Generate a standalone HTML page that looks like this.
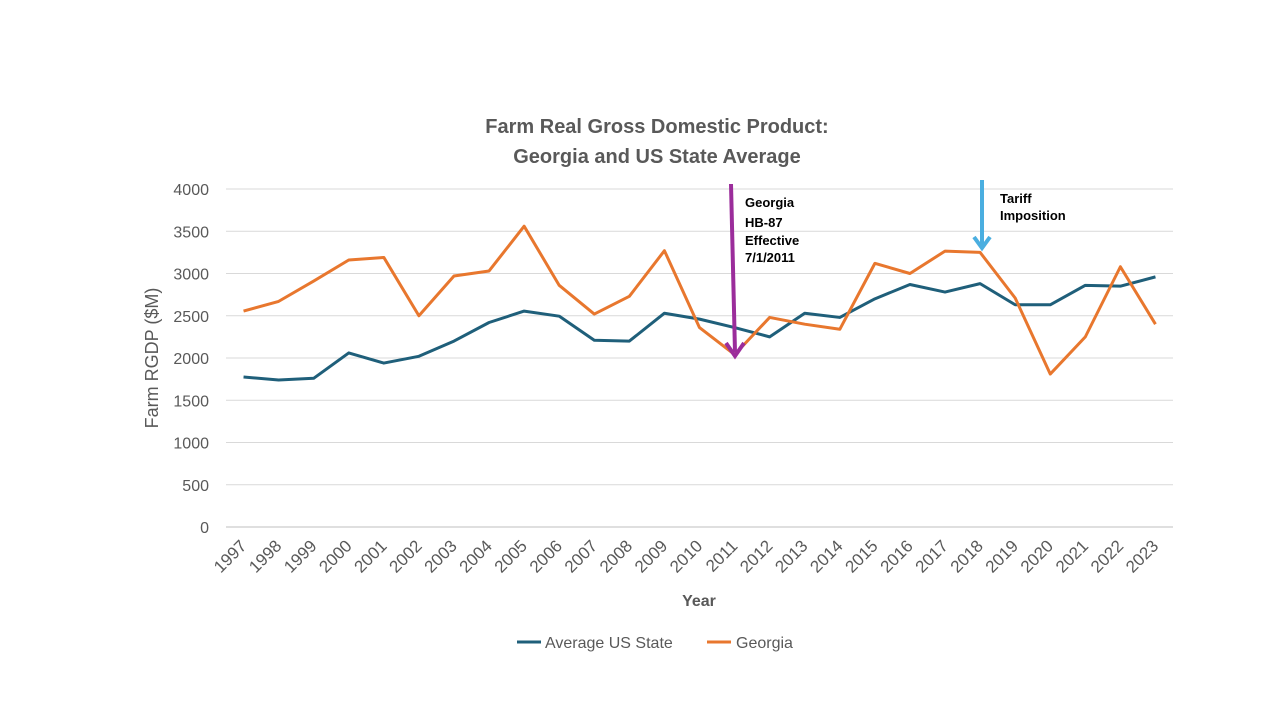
<!DOCTYPE html>
<html><head><meta charset="utf-8"><style>
body{margin:0;background:#fff;width:1280px;height:720px;overflow:hidden;font-family:"Liberation Sans",sans-serif}
</style></head><body>
<svg id="chart" width="1280" height="720" xmlns="http://www.w3.org/2000/svg" font-family="Liberation Sans, sans-serif">
<text x="657" y="133" text-anchor="middle" font-size="20" font-weight="bold" fill="#595959">Farm Real Gross Domestic Product:</text>
<text x="657" y="163" text-anchor="middle" font-size="20" font-weight="bold" fill="#595959">Georgia and US State Average</text>
<g id="grid"></g><g id="yticks"></g><g id="xticks"></g><g id="series"></g>
<text transform="translate(158,358) rotate(-90)" text-anchor="middle" font-size="18" fill="#595959">Farm RGDP ($M)</text>
<text x="699" y="606" text-anchor="middle" font-size="16" font-weight="bold" fill="#595959">Year</text>
<g>
<line x1="517" y1="642" x2="541" y2="642" stroke="#1f5f7a" stroke-width="3"/>
<text x="545" y="648" font-size="16" fill="#595959">Average US State</text>
<line x1="707" y1="642" x2="731" y2="642" stroke="#e8772e" stroke-width="3"/>
<text x="736" y="648" font-size="16" fill="#595959">Georgia</text>
</g>
<g>
<line x1="731" y1="184" x2="735" y2="352" stroke="#9b2d9b" stroke-width="4"/>
<polyline points="726,343 735,356 744,343" fill="none" stroke="#9b2d9b" stroke-width="4"/>
<text font-size="13" font-weight="bold" fill="#000"><tspan x="745" y="207">Georgia</tspan><tspan x="745" y="227">HB-87</tspan><tspan x="745" y="245">Effective</tspan><tspan x="745" y="262">7/1/2011</tspan></text>
</g>
<g>
<line x1="982" y1="180" x2="982" y2="246" stroke="#4aaee0" stroke-width="4"/>
<polyline points="974,237 982,248 990,237" fill="none" stroke="#4aaee0" stroke-width="4"/>
<text font-size="13" font-weight="bold" fill="#000"><tspan x="1000" y="203">Tariff</tspan><tspan x="1000" y="220">Imposition</tspan></text>
</g>
</svg>
<script>
const years=[1997,1998,1999,2000,2001,2002,2003,2004,2005,2006,2007,2008,2009,2010,2011,2012,2013,2014,2015,2016,2017,2018,2019,2020,2021,2022,2023];
const usAvg=[1775,1740,1760,2060,1940,2020,2200,2420,2555,2495,2210,2200,2530,2460,2360,2250,2530,2480,2700,2870,2780,2880,2630,2630,2860,2850,2960];
const georgia=[2555,2670,2910,3160,3190,2500,2970,3030,3560,2860,2520,2730,3270,2360,2040,2480,2400,2340,3120,3000,3265,3250,2710,1810,2250,3080,2400];
const yTicks=[0,500,1000,1500,2000,2500,3000,3500,4000];
const NS="http://www.w3.org/2000/svg";
const x0=226,x1=1173,y0=527,y1=189;
const step=(x1-x0)/years.length;
const xs=i=>x0+step*(i+0.5);
const ys=v=>y0-(v/4000)*(y0-y1);
function mk(t,a,p){const e=document.createElementNS(NS,t);for(const k in a)e.setAttribute(k,a[k]);p.appendChild(e);return e;}
const g=document.getElementById('grid'),yt=document.getElementById('yticks'),xt=document.getElementById('xticks'),s=document.getElementById('series');
yTicks.forEach(v=>{
 const l=mk('line',{x1:x0,x2:x1,y1:ys(v),y2:ys(v),stroke:v===0?'#bfbfbf':'#d9d9d9','stroke-width':1},g);
 
 
 const t=mk('text',{x:209,y:ys(v)+6,'text-anchor':'end','font-size':16,fill:'#595959'},yt);
 t.textContent=v;
 
 
});
years.forEach((y,i)=>{
 const t=mk('text',{transform:`translate(${xs(i)+4},${547}) rotate(-45)`,'text-anchor':'end','font-size':17,fill:'#595959'},xt);
 t.textContent=y;
 
 
});
function line(vals,color,name){
 const p=mk('polyline',{points:vals.map((v,i)=>xs(i)+','+ys(v)).join(' '),fill:'none',stroke:color,'stroke-width':3,'stroke-linejoin':'round'},s);
 
 
}
line(usAvg,'#1f5f7a','us-average-line');
line(georgia,'#e8772e','georgia-line');
</script>
</body></html>
